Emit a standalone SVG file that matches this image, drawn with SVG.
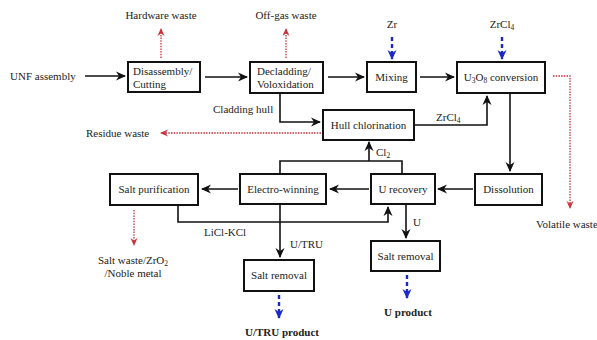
<svg xmlns="http://www.w3.org/2000/svg" width="597" height="340" viewBox="0 0 597 340">
<style>
text{font-family:"Liberation Serif","Times New Roman",serif;font-size:11px;fill:#222}
.b{font-weight:bold}
.m{text-anchor:middle}
.box{fill:#fff;stroke:#111;stroke-width:2}
.ln{fill:none;stroke:#111;stroke-width:1.6}
.red{fill:none;stroke:#c8323c;stroke-width:1.3;stroke-dasharray:1.5 1.2}
.blue{fill:none;stroke:#1a28c8;stroke-width:2.4;stroke-dasharray:4 3}
</style>
<defs>
<marker id="ak" markerWidth="10" markerHeight="10" refX="9" refY="5" orient="auto" markerUnits="userSpaceOnUse">
<path d="M0,0.5 L10,5 L0,9.5 L3,5 z" fill="#111"/>
</marker>
<marker id="ar" markerWidth="8" markerHeight="8" refX="7" refY="4" orient="auto" markerUnits="userSpaceOnUse">
<path d="M0,0.5 L8,4 L0,7.5 L2.5,4 z" fill="#c8323c"/>
</marker>
<marker id="ab" markerWidth="10" markerHeight="10" refX="9" refY="5" orient="auto" markerUnits="userSpaceOnUse">
<path d="M0,0.5 L10,5 L0,9.5 L3,5 z" fill="#1a28c8"/>
</marker>
</defs>
<rect width="597" height="340" fill="#fff"/>

<g id="connectors">
<path class="ln" d="M85,76 H125" marker-end="url(#ak)"/>
<path class="ln" d="M205,77 H247" marker-end="url(#ak)"/>
<path class="ln" d="M328,77 H364" marker-end="url(#ak)"/>
<path class="ln" d="M420,77 H454" marker-end="url(#ak)"/>
<path class="red" d="M161,58 V29" marker-end="url(#ar)"/>
<path class="red" d="M286,58 V29" marker-end="url(#ar)"/>
<path class="blue" d="M392,37 V59" marker-end="url(#ab)"/>
<path class="blue" d="M502,37 V59" marker-end="url(#ab)"/>
<path class="red" d="M553,76 H570 V208" marker-end="url(#ar)"/>
<path class="ln" d="M510,93 V171" marker-end="url(#ak)"/>
<path class="ln" d="M414,125 H487 V96" marker-end="url(#ak)"/>
<path class="ln" d="M280,93 V122 H320" marker-end="url(#ak)"/>
<path class="red" d="M321,133 H161" marker-end="url(#ar)"/>
<path class="ln" d="M402,174 V161 H280 V174"/>
<path class="ln" d="M369,161 V142" marker-end="url(#ak)"/>
<path class="ln" d="M473,189 H438" marker-end="url(#ak)"/>
<path class="ln" d="M369,189 H330" marker-end="url(#ak)"/>
<path class="ln" d="M238,189 H202" marker-end="url(#ak)"/>
<path class="ln" d="M178,205 V222 H388 V207" marker-end="url(#ak)"/>
<path class="ln" d="M280,204 V257" marker-end="url(#ak)"/>
<path class="ln" d="M406,204 V238" marker-end="url(#ak)"/>
<path class="red" d="M134,210 V245" marker-end="url(#ar)"/>
<path class="blue" d="M279,295 V318" marker-end="url(#ab)"/>
<path class="blue" d="M407,275 V298" marker-end="url(#ab)"/>
</g>

<g id="labels">
<text x="10" y="80">UNF assembly</text>
<text class="m" x="161" y="19">Hardware waste</text>
<text class="m" x="286" y="19">Off-gas waste</text>
<text class="m" x="392" y="28">Zr</text>
<text class="m" x="502" y="28">ZrCl<tspan font-size="7.5" dy="2">4</tspan></text>
<text x="213" y="113">Cladding hull</text>
<text x="86" y="137">Residue waste</text>
<text x="436" y="121">ZrCl<tspan font-size="7.5" dy="2">4</tspan></text>
<text x="376" y="156">Cl<tspan font-size="7.5" dy="2">2</tspan></text>
<text x="204" y="236">LiCl-KCl</text>
<text x="290" y="248">U/TRU</text>
<text x="413" y="226">U</text>
<text class="m" x="133" y="264">Salt waste/ZrO<tspan font-size="7.5" dy="2">2</tspan></text>
<text class="m" x="133" y="277">/Noble metal</text>
<text x="536" y="228">Volatile waste</text>
<text class="m b" x="408" y="316">U product</text>
<text class="m b" x="282" y="336">U/TRU product</text>
</g>

<g id="disassembly"><rect class="box" x="128" y="62" width="72" height="30"/><text x="133" y="75">Disassembly/</text><text x="133" y="88">Cutting</text></g>
<g id="decladding"><rect class="box" x="250" y="62" width="73" height="31"/><text x="257" y="75">Decladding/</text><text x="257" y="88">Voloxidation</text></g>
<g id="mixing"><rect class="box" x="367" y="62" width="49" height="30"/><text class="m" x="391.5" y="81">Mixing</text></g>
<g id="u3o8"><rect class="box" x="457" y="62" width="88" height="31"/><text class="m" x="501" y="81">U<tspan font-size="7.5" dy="2">3</tspan><tspan dy="-2">O</tspan><tspan font-size="7.5" dy="2">8</tspan><tspan dy="-2"> conversion</tspan></text></g>
<g id="hull"><rect class="box" x="323" y="110" width="91" height="30"/><text class="m" x="368.5" y="129">Hull chlorination</text></g>
<g id="electrowinning"><rect class="box" x="240" y="174" width="86" height="30"/><text class="m" x="283" y="193">Electro-winning</text></g>
<g id="urecovery"><rect class="box" x="371" y="174" width="64" height="30"/><text class="m" x="403" y="193">U recovery</text></g>
<g id="dissolution"><rect class="box" x="475" y="174" width="67" height="31"/><text class="m" x="508.5" y="193">Dissolution</text></g>
<g id="saltpurification"><rect class="box" x="110" y="174" width="88" height="31"/><text class="m" x="154" y="193">Salt purification</text></g>
<g id="saltremoval1"><rect class="box" x="244" y="260" width="70" height="31"/><text class="m" x="279" y="279">Salt removal</text></g>
<g id="saltremoval2"><rect class="box" x="371" y="241" width="69" height="30"/><text class="m" x="405.5" y="260">Salt removal</text></g>
</svg>
